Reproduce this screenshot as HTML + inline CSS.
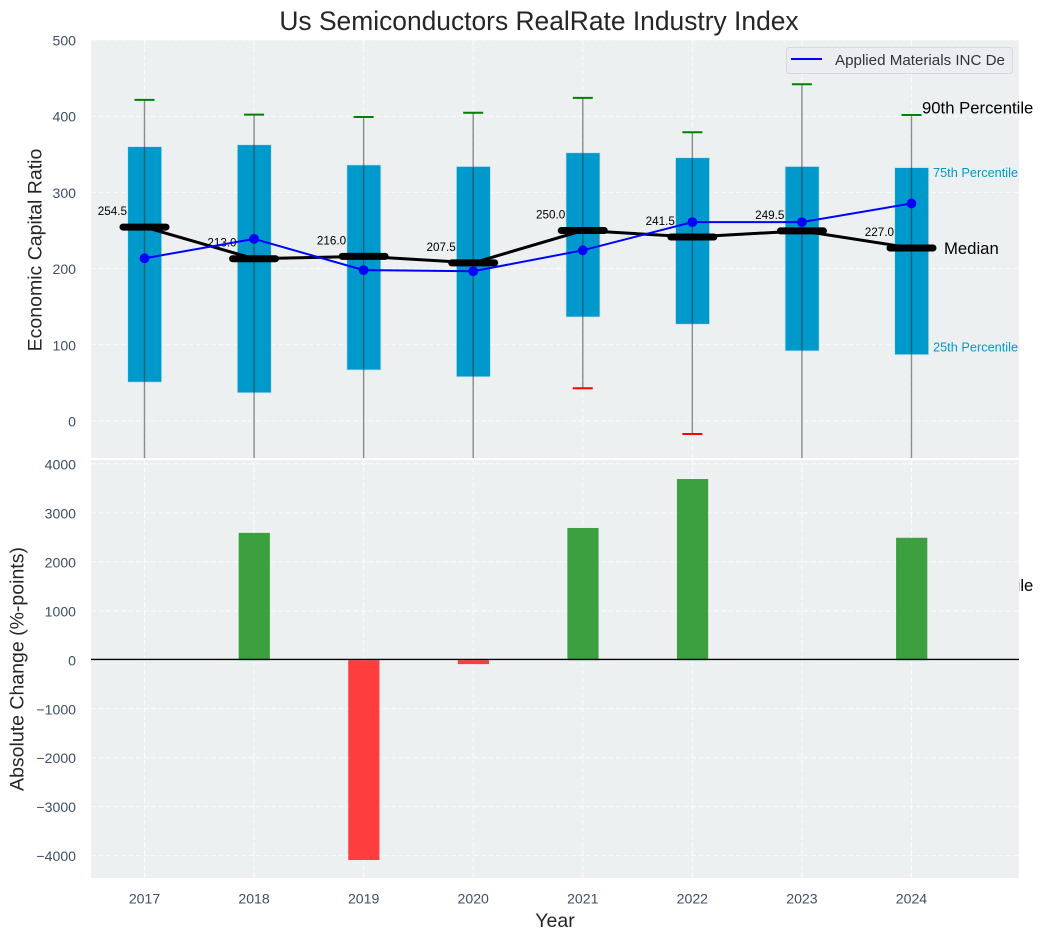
<!DOCTYPE html>
<html lang="en">
<head>
<meta charset="utf-8">
<title>Us Semiconductors RealRate Industry Index</title>
<style>
html,body{margin:0;padding:0;background:#fff;width:1043px;height:940px;overflow:hidden}
svg{display:block;font-family:"Liberation Sans",Arial,sans-serif}
</style>
</head>
<body>
<svg id="chart" xmlns="http://www.w3.org/2000/svg" width="1043" height="940" viewBox="0 0 1043 940">
  <defs>
    <clipPath id="top-clip"><rect x="91" y="40" width="928" height="418"/></clipPath>
    <clipPath id="bottom-clip"><rect x="91" y="460" width="928" height="418"/></clipPath>
  </defs>
  <rect x="91" y="40" width="928" height="418" fill="#ecf0f1"/>
  <g id="top-grid"></g>
  <g id="top-marks" clip-path="url(#top-clip)"></g>
  <text x="922" y="591" font-size="16.7" fill="#000">10th Percentile</text>
  <rect x="91" y="460" width="928" height="418" fill="#ecf0f1"/>
  <g id="bottom-grid"></g>
  <g id="bottom-marks" clip-path="url(#bottom-clip)"></g>
  <g id="labels"></g>
  <g id="axes-text"></g>
  <text x="539" y="30" text-anchor="middle" font-size="26.4" fill="#262626">Us Semiconductors RealRate Industry Index</text>
  <text transform="translate(41.5 250) rotate(-90)" text-anchor="middle" font-size="19.5" fill="#262626">Economic Capital Ratio</text>
  <text transform="translate(23.5 669) rotate(-90)" text-anchor="middle" font-size="19.5" fill="#262626">Absolute Change (%-points)</text>
  <text x="555" y="927" text-anchor="middle" font-size="19.5" fill="#262626">Year</text>
  <g>
    <rect x="786.5" y="47.5" width="226" height="26" rx="3" fill="#ebedf2" stroke="#d6d9dd"/>
    <line x1="791" x2="822" y1="59" y2="59" stroke="#0000ff" stroke-width="2"/>
    <text x="835" y="65" font-size="15.15" fill="#333">Applied Materials INC De</text>
  </g>
</svg>
<script>
const years = [2017, 2018, 2019, 2020, 2021, 2022, 2023, 2024];
const q1 = [51, 37, 67, 58, 136.5, 127, 92, 87];
const q3 = [360, 362.5, 336, 334, 352, 345.5, 334, 332.5];
const medians = [254.5, 213, 216, 207.5, 250, 241.5, 249.5, 227];
const p90 = [421.5, 402, 399, 404.5, 424, 379, 442, 401.5];
const p10 = [-90, -110, -80, -70, 43, -17, -75, -85];
const company = [213.5, 239, 198, 196.5, 224, 261, 261, 285.5];
const changes = [0, 2600, -4080, -80, 2700, 3700, 0, 2500];
const topTicks = [0, 100, 200, 300, 400, 500];
const bottomTicks = [-4000, -3000, -2000, -1000, 0, 1000, 2000, 3000, 4000];

const NS = 'http://www.w3.org/2000/svg';
const xScale = function (year) { return 144.5 + (year - 2017) * 109.57; };
const yTop = function (v) { return 421 - v * 0.762; };
const yBottom = function (v) { return 659.8 - v * 0.04897; };
const xPerYear = 109.57;

function make(parent, tag, attrs, text) {
  const el = document.createElementNS(NS, tag);
  for (const k in attrs) el.setAttribute(k, attrs[k]);
  if (text !== undefined) el.textContent = text;
  parent.appendChild(el);
  return el;
}

const topGrid = document.getElementById('top-grid');
const bottomGrid = document.getElementById('bottom-grid');
const topMarks = document.getElementById('top-marks');
const bottomMarks = document.getElementById('bottom-marks');
const axesText = document.getElementById('axes-text');
const labels = document.getElementById('labels');
const gridStyle = { stroke: '#ffffff', 'stroke-width': 1, 'stroke-dasharray': '5 2.5', opacity: 0.8 };

topTicks.forEach(function (t) {
  const line = make(topGrid, 'line', Object.assign({ x1: 91, x2: 1019, y1: yTop(t), y2: yTop(t) }, gridStyle));
  
  
  const label = make(axesText, 'text', { x: 76, y: yTop(t) + 5.5, 'text-anchor': 'end', 'font-size': 14.1, fill: '#3d4f66' }, String(t));
  
  
});

bottomTicks.forEach(function (t) {
  const line = make(bottomGrid, 'line', Object.assign({ x1: 91, x2: 1019, y1: yBottom(t), y2: yBottom(t) }, gridStyle));
  
  
  const label = make(axesText, 'text', { x: 76, y: yBottom(t) + 5.5, 'text-anchor': 'end', 'font-size': 14.1, fill: '#3d4f66' }, String(t).replace('-', '\u2212'));
  
  
});

years.forEach(function (year) {
  const x = xScale(year);
  const a = make(topGrid, 'line', Object.assign({ x1: x, x2: x, y1: 40, y2: 458 }, gridStyle));
  
  
  const b = make(bottomGrid, 'line', Object.assign({ x1: x, x2: x, y1: 460, y2: 878 }, gridStyle));
  
  
  const label = make(axesText, 'text', { x: x, y: 903.5, 'text-anchor': 'middle', 'font-size': 14.1, fill: '#3d4f66' }, String(year));
  
  
});

years.forEach(function (year, i) {
  const x = xScale(year);
  const w = xPerYear * 0.31;
  const box = make(topMarks, 'rect', { x: x - w / 2 + 0.2, y: yTop(q3[i]), width: w, height: yTop(q1[i]) - yTop(q3[i]), fill: '#0099cc', stroke: '#bfe3ef', 'stroke-width': 0.7 });
  
  
});

years.forEach(function (year, i) {
  const x = xScale(year);
  const whisker = make(topMarks, 'line', { x1: x, x2: x, y1: yTop(p90[i]), y2: yTop(p10[i]), stroke: '#333', 'stroke-opacity': 0.55, 'stroke-width': 1.4 });
  
  
  const hi = make(topMarks, 'line', { x1: x - 10, x2: x + 10, y1: yTop(p90[i]), y2: yTop(p90[i]), stroke: '#008000', 'stroke-width': 2 });
  
  
  const lo = make(topMarks, 'line', { x1: x - 10, x2: x + 10, y1: yTop(p10[i]), y2: yTop(p10[i]), stroke: '#ff0000', 'stroke-width': 2 });
  
  
  const value = make(topMarks, 'text', { x: x - 17.5, y: yTop(medians[i]) - 12, 'text-anchor': 'end', 'font-size': 11.7, fill: '#000' }, medians[i].toFixed(1));
  
  
});

const medianLine = make(topMarks, 'polyline', { points: years.map(function (y, i) { return xScale(y) + ',' + yTop(medians[i]); }).join(' '), fill: 'none', stroke: '#000', 'stroke-width': 3 });



years.forEach(function (year, i) {
  const x = xScale(year);
  const tick = make(topMarks, 'line', { x1: x - 21.5, x2: x + 21.5, y1: yTop(medians[i]), y2: yTop(medians[i]), stroke: '#000', 'stroke-width': 7, 'stroke-linecap': 'round' });
  
  
});

const companyLine = make(topMarks, 'polyline', { points: years.map(function (y, i) { return xScale(y) + ',' + yTop(company[i]); }).join(' '), fill: 'none', stroke: '#0000ff', 'stroke-width': 2 });



years.forEach(function (year, i) {
  const dot = make(topMarks, 'circle', { cx: xScale(year), cy: yTop(company[i]), r: 4.9, fill: '#0000ff' });
  
  
});

years.forEach(function (year, i) {
  if (changes[i] === 0) return;
  const x = xScale(year);
  const w = xPerYear * 0.285;
  const v = changes[i];
  const bar = make(bottomMarks, 'rect', { x: x - w / 2 + 0.2, y: Math.min(yBottom(0), yBottom(v)) + 0.4, width: w, height: Math.abs(yBottom(v) - yBottom(0)), fill: v > 0 ? '#2f9a33' : '#ff2f2f', 'fill-opacity': 0.93 });
  
  
});

const zero = make(bottomMarks, 'line', { x1: 91, x2: 1019, y1: yBottom(0) - 0.35, y2: yBottom(0) - 0.35, stroke: '#000', 'stroke-width': 1.4 });



const last = years.length - 1;
const x90 = make(labels, 'text', { x: 922, y: yTop(p90[last]) - 1.5, 'font-size': 16.7, fill: '#000' }, '90th Percentile');


const x75 = make(labels, 'text', { x: 933, y: yTop(q3[last]) + 9.5, 'font-size': 12.75, fill: '#0099cc' }, '75th Percentile');


const x25 = make(labels, 'text', { x: 933, y: yTop(q1[last]) - 3, 'font-size': 12.75, fill: '#0099cc' }, '25th Percentile');


const xMed = make(labels, 'text', { x: 944, y: yTop(medians[last]) + 6, 'font-size': 16.7, fill: '#000' }, 'Median');


</script>
</body>
</html>
